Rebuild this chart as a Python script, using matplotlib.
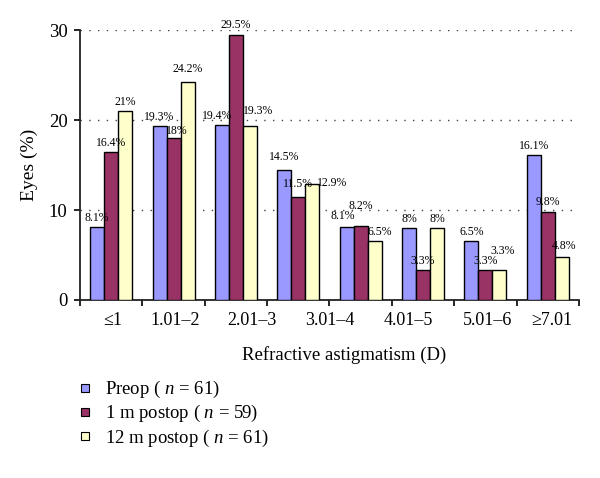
import numpy as np
import matplotlib.pyplot as plt
from matplotlib.lines import Line2D

plt.rcParams['font.family'] = ['Liberation Serif', 'DejaVu Serif']
plt.rcParams['mathtext.fontset'] = 'custom'
plt.rcParams['mathtext.rm'] = 'Liberation Serif'
plt.rcParams['mathtext.it'] = 'Liberation Serif:italic'

# one group per bin (8 groups in the figure, 7 labels printed)
preop = [8.1, 19.3, 19.4, 14.5, 8.1, 8.0, 6.5, 16.1]
post1 = [16.4, 18.0, 29.5, 11.5, 8.2, 3.3, 3.3, 9.8]
post12 = [21.0, 24.2, 19.3, 12.9, 6.5, 8.0, 3.3, 4.8]
tick_labels = ['≤1', '1.01–2', '2.01–3', '3.01–4', '4.01–5', '5.01–6', '≥7.01']
label_pos = [0.03, 1.02, 2.26, 3.51, 4.76, 6.03, 7.07]
series_names = ['Preop ( $n$ = 61)', '1 m postop ( $n$ = 59)', '12 m postop ( $n$ = 61)']
colors = ['#9999FF', '#993366', '#FFFFCC']

# nudges (points) for value labels, as they sit in the original
nudge = {(0, 2): (-3.5, 0), (1, 1): (2, -2), (2, 1): (0, 3), (2, 2): (6, 4),
         (2, 3): (14, -6), (0, 4): (-3, 1), (1, 4): (0, 8), (2, 4): (4, 0),
         (2, 6): (2, 7), (2, 7): (2, 1), (0, 3): (0, 2), (1, 3): (0, 2)}

fig = plt.figure(figsize=(6, 4.78), dpi=100)
ax = fig.add_axes([0.1333, 0.3724, 0.8317, 0.5648])

x = np.arange(len(preop))
w = 0.224
for i, (vals, c) in enumerate(zip([preop, post1, post12], colors)):
    pos = x + (i - 1) * w
    ax.bar(pos, vals, width=w, color=c, edgecolor='black', linewidth=1, zorder=3)
    for j, (px, v) in enumerate(zip(pos, vals)):
        dx, dy = nudge.get((i, j), (0, 0))
        ax.annotate(f'{v:g}%', (px, v), xytext=(dx, 2.5 + dy), textcoords='offset points',
                    ha='center', va='bottom', fontsize=8.5, zorder=4)

ax.set_xlim(-0.5, len(preop) - 0.5)
ax.set_ylim(0, 30)
ax.set_yticks([0, 10, 20, 30])
ax.yaxis.grid(True, linestyle=(0, (1, 5.3)), linewidth=1, color='#444444', zorder=0)
ax.set_axisbelow(True)

# ticks at group boundaries, labels placed as in the original
ax.set_xticks(np.arange(len(preop) + 1) - 0.5)
ax.set_xticklabels([])
ax.set_xticks(label_pos, minor=True)
ax.set_xticklabels(tick_labels, minor=True, fontsize=13)
ax.tick_params(axis='x', which='minor', length=0, pad=9)
ax.tick_params(axis='x', which='major', length=4, width=1.2, direction='out')
ax.tick_params(axis='y', length=4, width=1.2, labelsize=13.5, pad=5)

for s in ['top', 'right']:
    ax.spines[s].set_visible(False)
for s in ['left', 'bottom']:
    ax.spines[s].set_linewidth(1.3)
    ax.spines[s].set_color('#222222')

ax.set_xlabel('Refractive astigmatism (D)', fontsize=13.5)
ax.xaxis.set_label_coords(0.529, -0.17)
ax.set_ylabel('Eyes (%)', fontsize=14, labelpad=8)

handles = [Line2D([], [], marker='s', linestyle='none', markersize=6,
                  markerfacecolor=c, markeredgecolor='black', markeredgewidth=0.8)
           for c in colors]
fig.legend(handles, series_names, loc='upper left', bbox_to_anchor=(0.128, 1 - 379 / 478),
           frameon=False, fontsize=13.5, handlelength=0.9, handletextpad=0.6,
           labelspacing=0.17, borderpad=0, borderaxespad=0)

fig.savefig('out.png', dpi=100)
